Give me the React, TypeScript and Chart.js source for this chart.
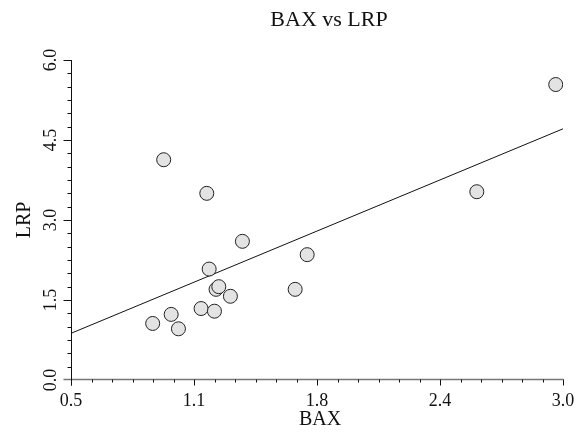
import React, { useEffect, useRef } from "react";
import { Chart, registerables } from "chart.js";

Chart.register(...registerables);

const chartTitle = "BAX vs LRP";
const xAxisTitle = "BAX";
const yAxisTitle = "LRP";

const baxValues = [2.963, 2.562, 0.971, 1.19, 1.371, 1.7, 1.202, 1.639, 1.237, 1.251, 1.31, 1.161, 1.229, 1.009, 0.915, 1.046];
const lrpValues = [5.54, 3.53, 4.13, 3.5, 2.6, 2.35, 2.08, 1.7, 1.7, 1.75, 1.57, 1.34, 1.29, 1.23, 1.06, 0.96];

const fitX = [0.5, 3.0];
const fitY = [0.875, 4.71];

const xMin = 0.5;
const xMax = 3.0;
const yMin = 0;
const yMax = 6;
const xTickValues = [0.5, 1.125, 1.75, 2.375, 3.0];
const xTickLabels = ["0.5", "1.1", "1.8", "2.4", "3.0"];
const xMinorStep = 0.625 / 6;
const yTickValues = [0, 1.5, 3.0, 4.5, 6.0];
const yTickLabels = ["0.0", "1.5", "3.0", "4.5", "6.0"];
const yMinorStep = 0.25;

const FONT = '"Liberation Serif", "Times New Roman", serif';

const decorPlugin = {
  id: "decor",
  afterDraw(chart: any) {
    const { ctx, scales } = chart;
    const xs = scales.x;
    const ys = scales.y;
    const px = (v: number) => xs.getPixelForValue(v);
    const py = (v: number) => ys.getPixelForValue(v);
    const left = Math.round(px(xMin)) + 0.5;
    const right = px(xMax);
    const bottom = Math.round(py(yMin)) - 0.5;
    const top = py(yMax);
    ctx.save();

    // x axis line
    ctx.strokeStyle = "#777";
    ctx.lineWidth = 1.6;
    ctx.beginPath();
    ctx.moveTo(left - 8, bottom);
    ctx.lineTo(right + 0.5, bottom);
    ctx.stroke();

    // y axis line
    ctx.strokeStyle = "#111";
    ctx.lineWidth = 1;
    ctx.beginPath();
    ctx.moveTo(left, top);
    ctx.lineTo(left, bottom + 6);
    ctx.stroke();

    // y ticks
    ctx.strokeStyle = "#111";
    for (let v = yMin; v <= yMax + 1e-9; v += yMinorStep) {
      const isMajor = yTickValues.some((t) => Math.abs(t - v) < 1e-6);
      if (isMajor && v === yMin) continue;
      const yy = Math.round(py(v)) + 0.5;
      ctx.beginPath();
      ctx.moveTo(left, yy);
      ctx.lineTo(left - (isMajor ? 8 : 4), yy);
      ctx.stroke();
    }
    // x ticks
    for (let i = 0; i <= Math.round((xMax - xMin) / xMinorStep); i++) {
      const v = xMin + i * xMinorStep;
      const isMajor = xTickValues.some((t) => Math.abs(t - v) < 1e-6);
      const xx = Math.round(px(v)) + 0.5;
      ctx.beginPath();
      ctx.moveTo(xx, bottom);
      ctx.lineTo(xx, bottom + (isMajor ? 6 : 3));
      ctx.stroke();
    }

    ctx.fillStyle = "#111";
    // x tick labels
    ctx.font = `18px ${FONT}`;
    ctx.textAlign = "center";
    ctx.textBaseline = "middle";
    xTickValues.forEach((v, i) => {
      ctx.fillText(xTickLabels[i], px(v), 401);
    });
    // y tick labels rotated
    yTickValues.forEach((v, i) => {
      ctx.save();
      ctx.translate(51, py(v));
      ctx.rotate(-Math.PI / 2);
      ctx.fillText(yTickLabels[i], 0, 0);
      ctx.restore();
    });

    // axis titles
    ctx.font = `20px ${FONT}`;
    ctx.fillText(xAxisTitle, 320, 420);
    ctx.save();
    ctx.translate(25, 220);
    ctx.rotate(-Math.PI / 2);
    ctx.fillText(yAxisTitle, 0, 0);
    ctx.restore();

    // chart title
    ctx.font = `22px ${FONT}`;
    ctx.fillText(chartTitle, 329, 20);
    ctx.restore();
  },
};

export default function App() {
  const canvasRef = useRef<HTMLCanvasElement | null>(null);

  useEffect(() => {
    const canvas = canvasRef.current;
    if (!canvas) return;
    const chart = new Chart(canvas, {
      type: "scatter",
      data: {
        datasets: [
          {
            label: "points",
            data: baxValues.map((x, i) => ({ x, y: lrpValues[i] })),
            backgroundColor: "#e3e3e3",
            borderColor: "#222",
            borderWidth: 1,
            pointRadius: 7,
            order: 0,
          },
          {
            label: "fit",
            type: "line",
            data: fitX.map((x, i) => ({ x, y: fitY[i] })),
            borderColor: "#111",
            borderWidth: 1,
            pointRadius: 0,
            showLine: true,
            fill: false,
            order: 1,
          } as any,
        ],
      },
      options: {
        responsive: false,
        animation: false,
        devicePixelRatio: 1,
        layout: { padding: { left: 71, right: 22, top: 60, bottom: 56 } },
        scales: {
          x: { type: "linear", min: xMin, max: xMax, display: false },
          y: { type: "linear", min: yMin, max: yMax, display: false },
        },
        plugins: {
          legend: { display: false },
          title: { display: false },
          tooltip: { enabled: false },
        },
      },
      plugins: [decorPlugin],
    });
    return () => chart.destroy();
  }, []);

  return (
    <div style={{ position: "absolute", left: 0, top: 0, width: 585, height: 436, background: "#fff" }}>
      <canvas ref={canvasRef} width={585} height={436} style={{ width: 585, height: 436, display: "block" }} />
    </div>
  );
}
